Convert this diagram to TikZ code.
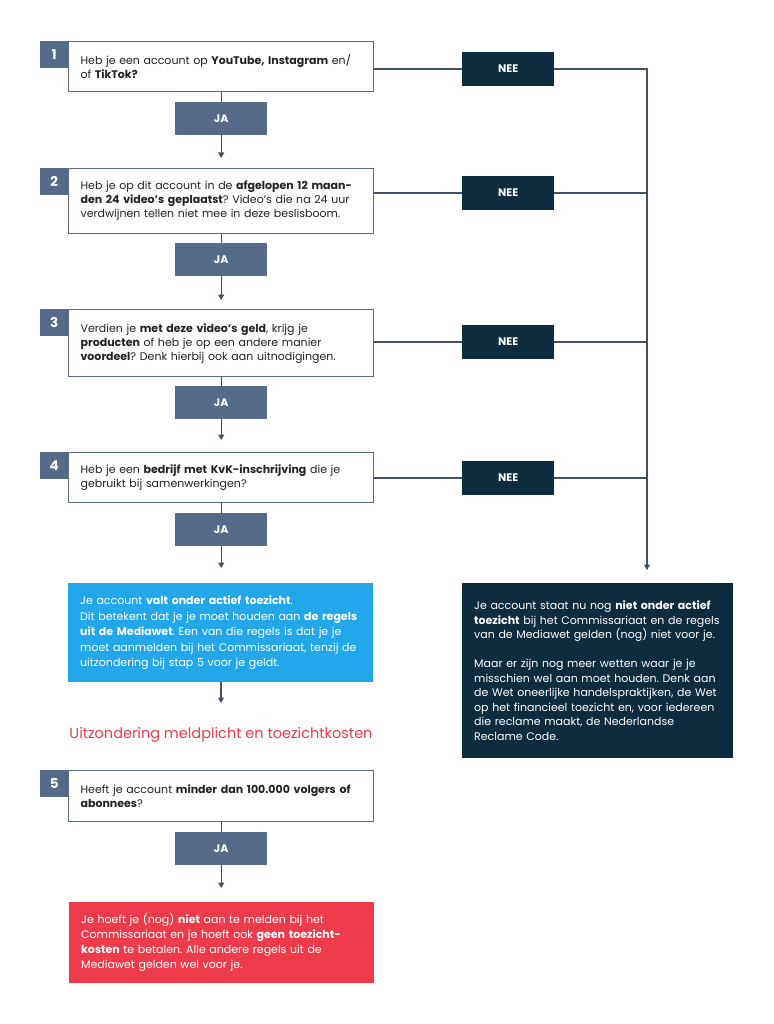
\documentclass[tikz,border=0pt]{standalone}
\usepackage{fontspec}
\setmainfont{Poppins}
\frenchspacing
\usetikzlibrary{arrows.meta}
\definecolor{slate}{HTML}{566B8A}
\definecolor{navy}{HTML}{0D2C40}
\definecolor{skyblue}{HTML}{22A7EB}
\definecolor{alertred}{HTML}{EE3B4B}
\definecolor{txt}{HTML}{222222}
\definecolor{lineclr}{HTML}{3F5269}
\begin{document}
\begin{tikzpicture}[x=1pt,y=-1pt,
  qbox/.style={draw=slate, line width=1.2pt, fill=white, anchor=north west, minimum width=305pt,
    text width=281pt, inner xsep=12pt, inner ysep=0pt, align=left, text=txt,
    font=\fontsize{11}{14}\selectfont},
  numbox/.style={fill=slate, anchor=north west, minimum width=28pt, minimum height=27pt, inner sep=0pt,
    text=white, font=\bfseries\fontsize{13.5}{14}\selectfont},
  jabox/.style={fill=slate, anchor=north west, minimum width=92pt, minimum height=33pt, inner sep=0pt,
    text=white, font=\bfseries\fontsize{11}{12}\selectfont},
  neebox/.style={fill=navy, anchor=west, minimum width=92pt, minimum height=34pt, inner sep=0pt,
    text=white, font=\bfseries\fontsize{11}{12}\selectfont},
  infobox/.style={anchor=north west, inner xsep=12pt, inner ysep=0pt, align=left, text=white},
  conn/.style={draw=lineclr, line width=1.1pt},
  arr/.style={conn, -{Triangle[width=6pt,length=5.5pt]}},
]
\useasboundingbox[fill=white] (0,0) rectangle (773,1024);

% Question 1
\node[qbox, minimum height=50pt] (q1) at (68,41) {Heb je een account op \textbf{YouTube, Instagram} en/\\of \textbf{TikTok?}};
\node[numbox] (n1) at (40,41) {1};
\node[jabox] (ja1) at (175,102) {JA};

% Question 2
\node[qbox, minimum height=65pt] (q2) at (68,168) {Heb je op dit account in de \textbf{afgelopen 12 maan-}\\\textbf{den 24 video’s geplaatst}? Video’s die na 24 uur\\verdwijnen tellen niet mee in deze beslisboom.};
\node[numbox] (n2) at (40,168) {2};
\node[jabox] (ja2) at (175,243) {JA};

% Question 3
\node[qbox, minimum height=67pt] (q3) at (68,309) {Verdien je \textbf{met deze video’s geld}, krijg je\\\textbf{producten} of heb je op een andere manier\\\textbf{voordeel}? Denk hierbij ook aan uitnodigingen.};
\node[numbox] (n3) at (40,309) {3};
\node[jabox] (ja3) at (175,386) {JA};

% Question 4
\node[qbox, minimum height=50pt] (q4) at (68,452) {Heb je een \textbf{bedrijf met KvK-inschrijving} die je\\gebruikt bij samenwerkingen?};
\node[numbox] (n4) at (40,452) {4};
\node[jabox] (ja4) at (175,513) {JA};

% Blue result
\node[infobox, fill=skyblue, minimum width=305pt, minimum height=99pt, text width=281pt,
  font=\fontsize{11}{15.5}\selectfont] (blue) at (68,583)
  {Je account \textbf{valt onder actief toezicht}.\\Dit betekent dat je je moet houden aan \textbf{de regels}\\\textbf{uit de Mediawet}. Een van die regels is dat je je\\moet aanmelden bij het Commissariaat, tenzij de\\uitzondering bij stap 5 voor je geldt.};

\coordinate (tipblue) at (221,703);
\node[text=alertred, font=\fontsize{14.5}{17}\selectfont, inner sep=0pt] (exc) at (221,735) {Uitzondering meldplicht en toezichtkosten};

% Question 5
\node[qbox, minimum height=51pt] (q5) at (68,770) {Heeft je account \textbf{minder dan 100.000 volgers of}\\\textbf{abonnees}?};
\node[numbox] (n5) at (40,770) {5};
\node[jabox] (ja5) at (175,832) {JA};

% Red result
\node[infobox, fill=alertred, minimum width=305pt, minimum height=81pt, text width=281pt,
  font=\fontsize{11}{15}\selectfont] (red) at (69,902)
  {Je hoeft je (nog) \textbf{niet} aan te melden bij het\\Commissariaat en je hoeft ook \textbf{geen toezicht-}\\\textbf{kosten} te betalen. Alle andere regels uit de\\Mediawet gelden wel voor je.};

% NEE boxes
\node[neebox] (nee1) at (462,69) {NEE};
\node[neebox] (nee2) at (462,193) {NEE};
\node[neebox] (nee3) at (462,342) {NEE};
\node[neebox] (nee4) at (462,478) {NEE};

% Dark result
\node[infobox, fill=navy, minimum width=271pt, minimum height=175pt, text width=247pt,
  font=\fontsize{11}{14.5}\selectfont] (dark) at (462,583)
  {Je account staat nu nog \textbf{niet onder actief}\\\textbf{toezicht} bij het Commissariaat en de regels\\van de Mediawet gelden (nog) niet voor je.\\[14.5pt]Maar er zijn nog meer wetten waar je je\\misschien wel aan moet houden. Denk aan\\de Wet oneerlijke handelspraktijken, de Wet\\op het financieel toezicht en, voor iedereen\\die reclame maakt, de Nederlandse\\Reclame Code.};

% JA connectors
\draw[conn] (q1.south -| ja1.north) -- (ja1.north);
\draw[arr, shorten >=10pt] (ja1.south) -- (q2.north -| ja1.south);
\draw[conn] (q2.south -| ja2.north) -- (ja2.north);
\draw[arr, shorten >=9pt] (ja2.south) -- (q3.north -| ja2.south);
\draw[conn] (q3.south -| ja3.north) -- (ja3.north);
\draw[arr, shorten >=12pt] (ja3.south) -- (q4.north -| ja3.south);
\draw[conn] (q4.south -| ja4.north) -- (ja4.north);
\draw[arr, shorten >=15pt] (ja4.south) -- (blue.north -| ja4.south);
\draw[arr] (blue.south -| tipblue) -- (tipblue);
\draw[conn] (q5.south -| ja5.north) -- (ja5.north);
\draw[arr, shorten >=14pt] (ja5.south) -- (red.north -| ja5.south);

% NEE connectors
\coordinate (corner) at (647,69);
\draw[conn] (q1.east |- nee1.west) -- (nee1.west);
\draw[conn] (q2.east |- nee2.west) -- (nee2.west);
\draw[conn] (q3.east |- nee3.west) -- (nee3.west);
\draw[conn] (q4.east |- nee4.west) -- (nee4.west);
\draw[conn] (nee2.east) -- (nee2.east -| corner);
\draw[conn] (nee3.east) -- (nee3.east -| corner);
\draw[conn] (nee4.east) -- (nee4.east -| corner);
\draw[arr, shorten >=13pt] (nee1.east) -- (corner) -- (dark.north -| corner);
\end{tikzpicture}
\end{document}
